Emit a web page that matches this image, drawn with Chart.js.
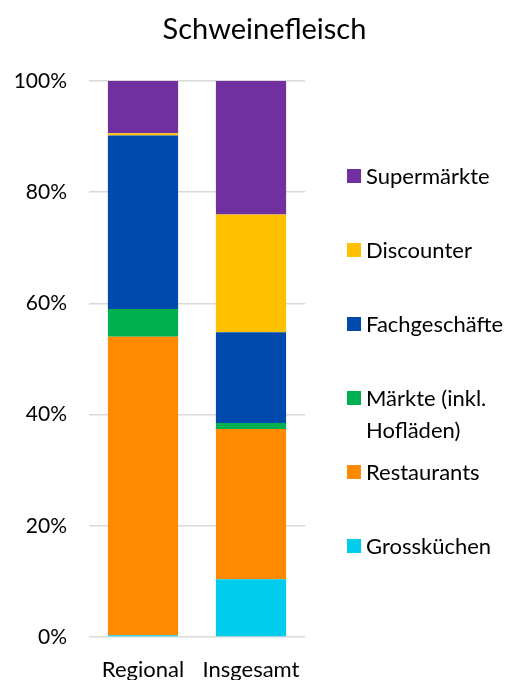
<!DOCTYPE html>
<html>
<head>
<meta charset="utf-8">
<script src="https://cdn.jsdelivr.net/npm/chart.js@4/dist/chart.umd.min.js"></script>
<style>
  html, body { margin: 0; padding: 0; background: #fff; }
  #wrap { position: relative; width: 514px; height: 680px; font-family: Lato, "Open Sans", sans-serif; color: #000; }
  #title { position: absolute; left: 0; width: 529px; top: 10px; text-align: center; font-size: 29px; line-height: 36px; white-space: nowrap; }
  .lg { position: absolute; left: 347px; }
  .lg .sw { position: absolute; left: 0; top: 0; width: 14px; height: 14px; }
  .lg .tx { position: absolute; left: 19px; top: -9px; font-size: 22px; line-height: 32px; white-space: nowrap; }
</style>
</head>
<body>
<div id="wrap">
  <canvas id="c" width="514" height="680"></canvas>
  <div id="title">Schweinefleisch</div>
</div>
<script>
const categories = ["Regional", "Insgesamt"];
const seriesNames = ["Grossküchen", "Restaurants", "Märkte (inkl.\nHofläden)", "Fachgeschäfte", "Discounter", "Supermärkte"];
const seriesColors = ["#00CCEC", "#FF8A00", "#00B050", "#004AAD", "#FFC000", "#7030A0"];
const grosskuechen = [0.3, 10.4];
const restaurants = [53.7, 27.0];
const maerkte = [5.0, 1.1];
const fachgeschaefte = [31.2, 16.3];
const discounter = [0.4, 21.2];
const supermaerkte = [9.4, 24.0];
const yTicks = [0, 20, 40, 60, 80, 100];

const seriesValues = [grosskuechen, restaurants, maerkte, fachgeschaefte, discounter, supermaerkte];

const datasets = seriesNames.map((n, i) => ({
  label: n,
  data: seriesValues[i],
  backgroundColor: seriesColors[i],
  borderWidth: 0,
  categoryPercentage: 1.0,
  barPercentage: 0.65
}));

const FONT = "Lato, 'Open Sans', sans-serif";

new Chart(document.getElementById('c'), {
  type: 'bar',
  data: { labels: categories, datasets },
  options: {
    responsive: false,
    animation: false,
    layout: { padding: { left: 0, right: 209, top: 81, bottom: 0 } },
    plugins: { legend: { display: false }, title: { display: false }, tooltip: { enabled: false } },
    scales: {
      x: {
        stacked: true,
        grid: { display: false },
        border: { display: false },
        ticks: { color: '#000', font: { family: FONT, size: 22 }, padding: 12, maxRotation: 0 },
        afterFit: s => { s.height = 43; }
      },
      y: {
        stacked: true,
        min: 0, max: 100,
        afterBuildTicks: s => { s.ticks = yTicks.map(v => ({ value: v })); },
        ticks: { color: '#000', font: { family: FONT, size: 21 }, padding: 22, callback: v => v + '%' },
        grid: { color: '#D9D9D9', lineWidth: 1.5, drawTicks: false },
        border: { display: false },
        afterFit: s => { s.width = 89; }
      }
    }
  }
});

// legend (top-to-bottom = reverse stacking order)
const wrap = document.getElementById('wrap');
const order = seriesNames.map((_, i) => i).reverse();
order.forEach((idx, k) => {
  const item = document.createElement('div');
  item.className = 'lg';
  item.style.top = (169 + k * 74) + 'px';
  const sw = document.createElement('div');
  sw.className = 'sw';
  sw.style.background = seriesColors[idx];
  const tx = document.createElement('div');
  tx.className = 'tx';
  tx.innerHTML = seriesNames[idx].split('\n').map(s => s.replace(/&/g, '&amp;').replace(/</g, '&lt;')).join('<br>');
  item.appendChild(sw);
  item.appendChild(tx);
  wrap.appendChild(item);
});
</script>
</body>
</html>
